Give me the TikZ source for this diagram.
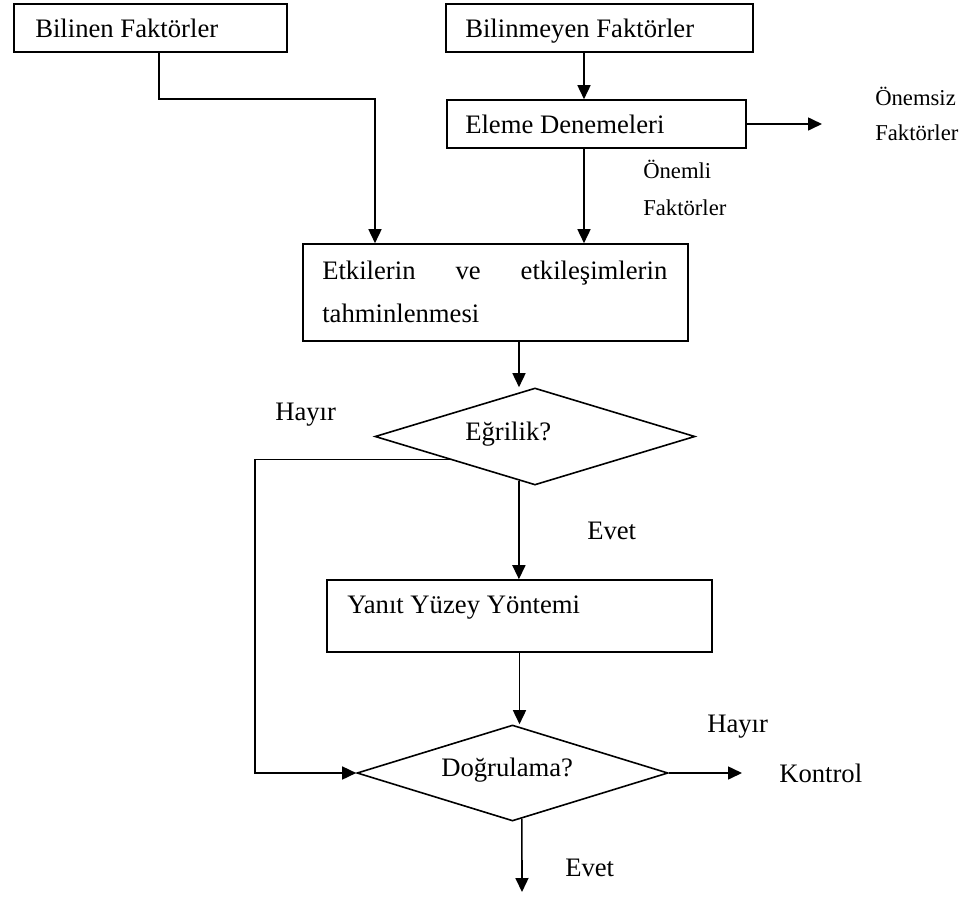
\documentclass[tikz,border=0pt]{standalone}
\usepackage{fontspec}
\setmainfont{Liberation Serif}
\usetikzlibrary{shapes.geometric,arrows.meta,calc}
\begin{document}
\begin{tikzpicture}[x=0.75pt,y=-0.75pt,
  box/.style={draw,line width=1.2pt,rectangle,inner sep=0pt},
  dia/.style={draw,line width=1.2pt,diamond,inner sep=0pt},
  arr/.style={line width=1.2pt,-{Triangle[length=10.5pt,width=9.75pt]}},
  txt/.style={inner sep=0pt,anchor=base west,font=\fontsize{20}{24}\selectfont},
  sml/.style={inner sep=0pt,anchor=base west,font=\fontsize{17}{20}\selectfont}]
\useasboundingbox (0,0) rectangle (976,897);

% boxes
\node[box,minimum width=273*0.75pt,minimum height=48*0.75pt] (b1) at (150.5,28) {};
\node[box,minimum width=307*0.75pt,minimum height=48*0.75pt] (b2) at (599.5,28) {};
\node[box,minimum width=299*0.75pt,minimum height=48*0.75pt] (b3) at (596.5,124) {};
\node[box,minimum width=385*0.75pt,minimum height=97*0.75pt] (b4) at (495.5,292.5) {};
\node[box,minimum width=385*0.75pt,minimum height=72*0.75pt] (b5) at (519.5,616) {};
\node[dia,minimum width=320*0.75pt,minimum height=97*0.75pt] (d1) at (535,436.5) {};
\node[dia,minimum width=311*0.75pt,minimum height=96*0.75pt] (d2) at (512.5,773) {};

% texts
\node[txt] (tb1) at (35,37) {Bilinen Faktörler};
\node[txt] (tb2) at (465,37) {Bilinmeyen Faktörler};
\node[txt] (tb3) at (465,133) {Eleme Denemeleri};
\node[sml] (tns1) at (875,105) {Önemsiz};
\node[sml] (tns2) at (875,140) {Faktörler};
\node[sml] (tnl1) at (643,178) {Önemli};
\node[sml] (tnl2) at (643,215) {Faktörler};
\node[txt] (tb4a) at (322,279) {\makebox[258.75pt][s]{Etkilerin ve etkileşimlerin}};
\node[txt] (tb4b) at (322,322) {tahminlenmesi};
\node[txt] (th1) at (275,420) {Hayır};
\node[txt] (td1) at (465,440) {Eğrilik?};
\node[txt] (te1) at (587,539) {Evet};
\node[txt] (tb5) at (347,613) {Yanıt Yüzey Yöntemi};
\node[txt] (td2) at (441,776) {Doğrulama?};
\node[txt] (th2) at (707,732) {Hayır};
\node[txt] (tk) at (779,782) {Kontrol};
\node[txt] (te2) at (565,876) {Evet};

% helper coordinates
\coordinate (k1) at (159,99);
\coordinate (t1) at (375,0);
\coordinate (ax) at (584,0);
\coordinate (ay) at (519,0);
\coordinate (lx) at (255,0);
\coordinate (e1) at (822,124);
\coordinate (e2) at (742,773);
\coordinate (e3) at (522,892);
\coordinate (ds) at ($(d1.west)!0.47!(d1.south)$);
\coordinate (dm) at ($(d1.west)!0.9!(d1.south)$);
\coordinate (dq) at ($(d2.east)!0.94!(d2.south)$);

% connectors
\draw[arr] (b1.south -| k1) -- (k1) -| (b4.north -| t1);
\draw[arr] (b2.south -| ax) -- (b3.north -| ax);
\draw[arr] (b3.south -| ax) -- (b4.north -| ax);
\draw[arr] (b3.east) -- (e1);
\draw[arr] (b4.south -| ay) -- (d1.north -| ay);
\draw[arr] (dm) -- (dm |- b5.north);
\draw[arr] (b5.south) -- (b5.south |- d2.north);
\draw[arr] (ds) -- (ds -| lx) |- (d2.west);
\draw[arr] (d2.east) -- (e2);
\draw[arr] (dq) -- (e3);
\end{tikzpicture}
\end{document}
